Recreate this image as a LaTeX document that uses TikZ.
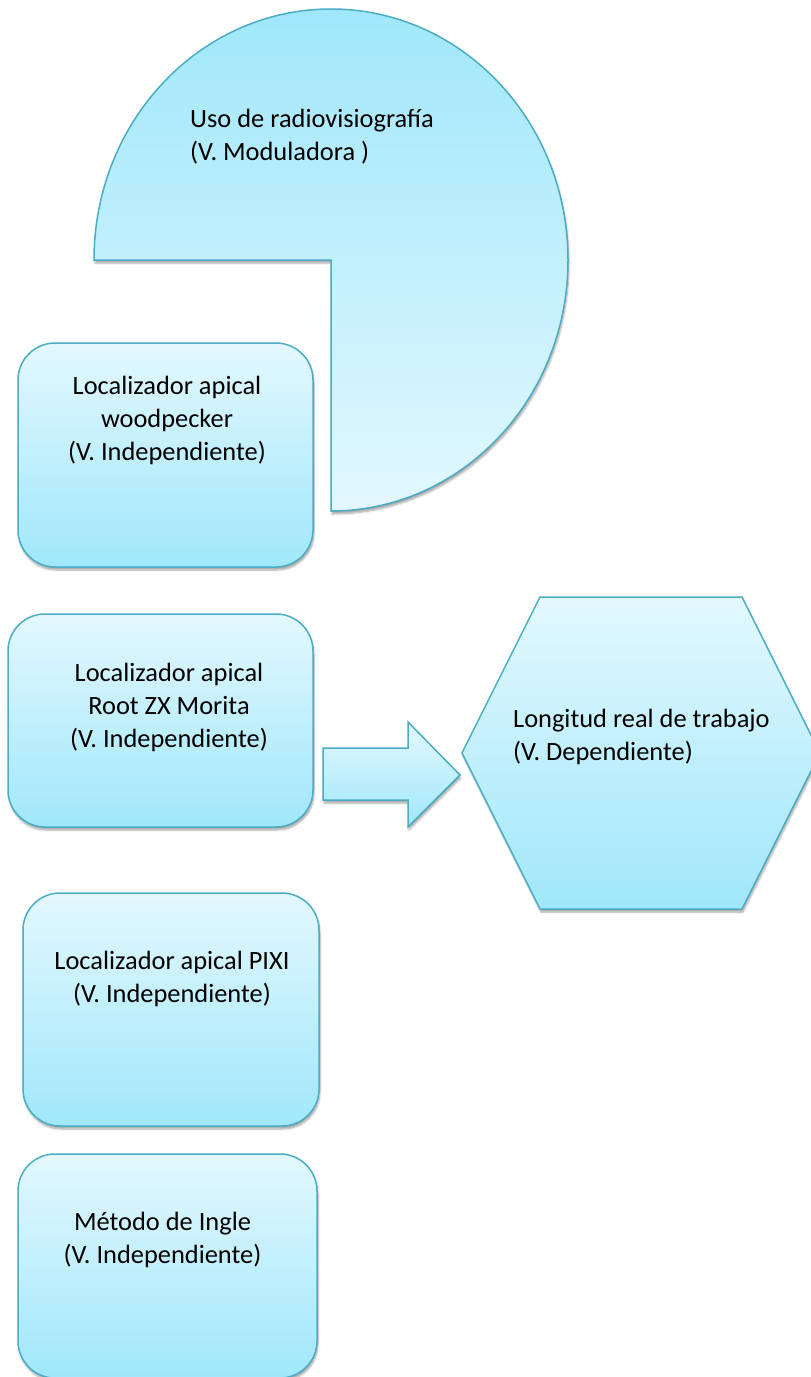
\documentclass[tikz,border=0pt]{standalone}
\usepackage{fontspec}
\setmainfont{Carlito}
\usepackage{xcolor}
\usepackage{tikz}
\usetikzlibrary{positioning,shadows.blur}

\definecolor{shapeline}{RGB}{75,172,198}
\definecolor{filllight}{RGB}{227,248,254}
\definecolor{filldark}{RGB}{160,231,251}

\tikzset{
  softshadow/.style={blur shadow={shadow xshift=1pt, shadow yshift=-3pt, shadow blur steps=6, shadow opacity=35}},
  roundbox/.style={draw=shapeline, line width=1.5pt, rounded corners=37pt, top color=filllight, bottom color=filldark, softshadow, inner sep=0pt},
  flatshape/.style={draw=shapeline, line width=1.5pt, top color=filllight, bottom color=filldark, softshadow},
  boxtext/.style={align=center, inner sep=0pt, font=\fontsize{26.4}{33}\selectfont},
  sidetext/.style={align=left, anchor=west, inner sep=0pt, font=\fontsize{26.4}{33}\selectfont}
}

\begin{document}
\begin{tikzpicture}[x=1pt,y=-1pt]
\useasboundingbox (0,0) rectangle (811,1377);
% moderating variable
\filldraw[flatshape, top color=filldark, bottom color=filllight] (331,260) -- (94,260) arc[start angle=180, end angle=450, x radius=237, y radius=251] -- cycle;
\node[sidetext] (radiotext) at (190,136.5) {Uso de radiovisiografía\\(V. Moduladora )};
% independent variables
\node[roundbox, minimum width=295pt, minimum height=224pt] (woodpecker) at (165.5,455) {};
\node[boxtext] (woodpeckertext) at (167,420) {Localizador apical\\woodpecker\\(V. Independiente)};
\node[roundbox, minimum width=305pt, minimum height=213pt] (morita) at (160.5,720.5) {};
\node[boxtext] (moritatext) at (169,707) {Localizador apical\\Root ZX Morita\\(V. Independiente)};
\node[roundbox, minimum width=296pt, minimum height=233pt] (pixi) at (171,1009.5) {};
\node[boxtext] (pixitext) at (172,979) {Localizador apical PIXI\\(V. Independiente)};
\node[roundbox, minimum width=299pt, minimum height=224pt] (ingle) at (167.5,1266) {};
\node[boxtext] (ingletext) at (162.5,1240) {Método de Ingle\\(V. Independiente)};
% block arrow
\filldraw[flatshape] (323,748) -- (408,748) -- (408,722) -- (460,775) -- (408,827) -- (408,800) -- (323,800) -- cycle;
% dependent variable
\filldraw[flatshape] (540,597) -- (742,597) -- (820,753) -- (742,909) -- (540,909) -- (462,753) -- cycle;
\node[sidetext] (longitudtext) at (513,736.5) {Longitud real de trabajo\\(V. Dependiente)};
\end{tikzpicture}
\end{document}
